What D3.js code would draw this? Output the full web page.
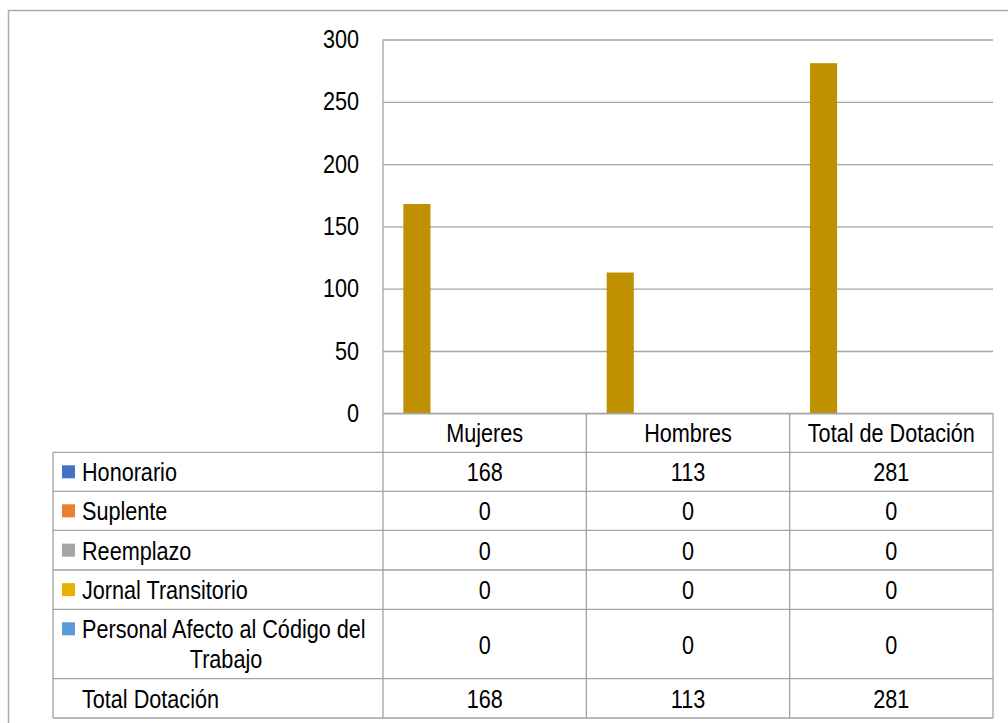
<!DOCTYPE html>
<html>
<head>
<meta charset="utf-8">
<script src="https://cdn.jsdelivr.net/npm/d3@7/dist/d3.min.js"></script>
<style>
  html, body { margin: 0; padding: 0; background: #fff; }
  svg { display: block; }
  text { font-family: "Liberation Sans Narrow", "Arial Narrow", "Liberation Sans", Arial, sans-serif; fill: #000; }
</style>
</head>
<body>
<svg id="chart" width="1008" height="723"></svg>
<script>
// ---- data ----
const categories = ["Mujeres", "Hombres", "Total de Dotación"];
const seriesNames = ["Honorario", "Suplente", "Reemplazo", "Jornal Transitorio", "Personal Afecto al Código del Trabajo", "Total Dotación"];
const seriesColors = ["#4472C4", "#ED7D31", "#A5A5A5", "#E8B000", "#5B9BD5", null];
const honorario = [168, 113, 281];
const suplente = [0, 0, 0];
const reemplazo = [0, 0, 0];
const jornalTransitorio = [0, 0, 0];
const personalAfecto = [0, 0, 0];
const totalDotacion = [168, 113, 281];
const yTicks = [0, 50, 100, 150, 200, 250, 300];
const barColor = "#BF9000";

const seriesValues = [honorario, suplente, reemplazo, jornalTransitorio, personalAfecto, totalDotacion];

const svg = d3.select("#chart");
const FS = 25;
const gridColor = "#A3A3A3";

// layout
const plotL = 383, plotR = 993, plotT = 39.5, plotB = 413.3;
const tableL = 53;
const rowLines = [413.3, 452.3, 491.3, 530.3, 570, 609.3, 678.7, 718];

// scales
const x0 = d3.scaleBand().domain(categories).range([plotL, plotR]).paddingInner(0).paddingOuter(0);
const x1 = d3.scaleBand().domain(d3.range(seriesNames.length)).range([0, x0.bandwidth()]).paddingInner(0).paddingOuter(0.75);
const y = d3.scaleLinear().domain([0, 300]).range([plotB, plotT]);

// outer frame
svg.append("rect").attr("x", 8.5).attr("y", 10.5).attr("width", 1100).attr("height", 800)
  .attr("fill", "none").attr("stroke", "#ABABAB").attr("stroke-width", 1.5);

// gridlines
const grid = svg.append("g").attr("transform", `translate(${plotL},0)`)
  .call(d3.axisLeft(y).tickValues(yTicks).tickSize(-(plotR - plotL)).tickFormat(""));
grid.select(".domain").remove();
grid.selectAll("line").attr("stroke", gridColor).attr("stroke-width", 1.3);

// y labels
const yAxis = svg.append("g").attr("transform", `translate(${plotL},0)`)
  .call(d3.axisLeft(y).tickValues(yTicks).tickSize(0).tickPadding(24));
yAxis.select(".domain").remove();
yAxis.selectAll("text").attr("font-size", FS).attr("font-family", null).style("fill", "#000");

// bars
const barData = [];
seriesValues.forEach((vals, si) => {
  if (si === seriesValues.length - 1) return; // total row is not drawn as bars
  vals.forEach((v, ci) => barData.push({ si, ci, v }));
});
svg.append("g").selectAll("rect").data(barData.filter(d => d.v > 0)).join("rect")
  .attr("x", d => x0(categories[d.ci]) + x1(d.si))
  .attr("width", x1.bandwidth())
  .attr("y", d => y(d.v))
  .attr("height", d => y(0) - y(d.v))
  .attr("fill", barColor);

// table lines
const tl = svg.append("g").attr("stroke", gridColor).attr("stroke-width", 1.3);
rowLines.forEach((ry, i) => {
  tl.append("line").attr("x1", i === 0 ? plotL : tableL).attr("x2", plotR).attr("y1", ry).attr("y2", ry);
});
tl.append("line").attr("x1", tableL).attr("x2", tableL).attr("y1", rowLines[1]).attr("y2", rowLines[7]);
tl.append("line").attr("x1", plotL).attr("x2", plotL).attr("y1", plotT).attr("y2", rowLines[7]);
categories.forEach(c => {
  const xr = x0(c) + x0.bandwidth();
  tl.append("line").attr("x1", xr).attr("x2", xr).attr("y1", rowLines[0]).attr("y2", rowLines[7]);
});

const allText = [];
// header
categories.forEach(c => {
  allText.push(svg.append("text").attr("x", x0(c) + x0.bandwidth() / 2).attr("y", (rowLines[0] + rowLines[1]) / 2 + 1)
    .attr("text-anchor", "middle").attr("dominant-baseline", "central").attr("font-size", FS).text(c));
});

// rows
seriesNames.forEach((name, si) => {
  const top = rowLines[si + 1], bot = rowLines[si + 2], mid = (top + bot) / 2;
  if (seriesColors[si]) {
    svg.append("rect").attr("x", 62).attr("y", (name.length > 25 ? top + 13 : mid - 6.5)).attr("width", 13).attr("height", 13)
      .attr("fill", seriesColors[si]);
  }
  if (name.length > 25) {
    allText.push(svg.append("text").attr("x", 82).attr("y", top + 20).attr("dominant-baseline", "central")
      .attr("font-size", FS).text("Personal Afecto al Código del"));
    allText.push(svg.append("text").attr("x", 226).attr("y", top + 50).attr("dominant-baseline", "central")
      .attr("text-anchor", "middle").attr("font-size", FS).text("Trabajo"));
  } else {
    allText.push(svg.append("text").attr("x", 82).attr("y", mid + 1).attr("dominant-baseline", "central")
      .attr("font-size", FS).text(name));
  }
  seriesValues[si].forEach((v, ci) => {
    allText.push(svg.append("text").attr("x", x0(categories[ci]) + x0.bandwidth() / 2).attr("y", mid + 1)
      .attr("text-anchor", "middle").attr("dominant-baseline", "central").attr("font-size", FS).text(v));
  });
});
yAxis.selectAll("text").each(function () { allText.push(d3.select(this)); });

// Condense text horizontally if a narrow face is not available
const probe = svg.append("text").attr("font-size", FS).text("Honorario");
const w = probe.node().getComputedTextLength();
probe.remove();
const ratio = 95 / w;
if (ratio < 0.95) {
  allText.forEach(t => {
    const n = t.node();
    const bb = n.getBBox();
    const anchor = n.getAttribute("text-anchor") || (n.closest(".tick") ? "end" : "start");
    let ax;
    if (n.closest(".tick")) ax = parseFloat(n.getAttribute("x") || 0);
    else ax = parseFloat(n.getAttribute("x"));
    const prev = n.getAttribute("transform") || "";
    t.attr("transform", `${prev} translate(${ax},0) scale(${ratio},1) translate(${-ax},0)`);
  });
}
</script>
</body>
</html>
